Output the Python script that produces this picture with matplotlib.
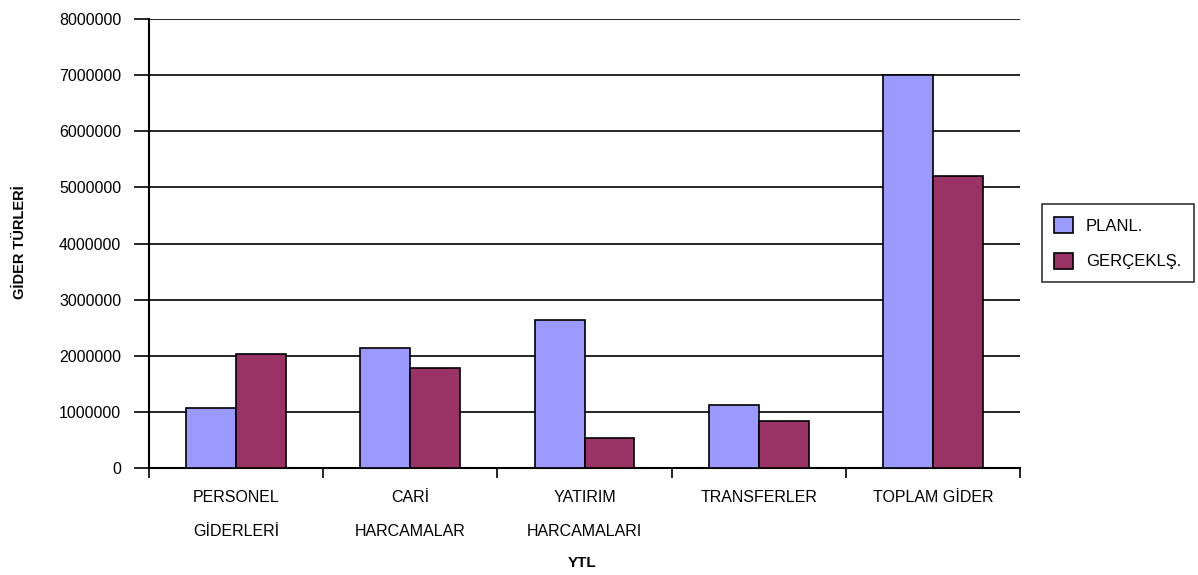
import matplotlib
matplotlib.use("Agg")
import matplotlib.pyplot as plt
import numpy as np

plt.rcParams['font.family'] = ['Liberation Sans', 'DejaVu Sans']

categories = ["PERSONEL\nGİDERLERİ", "CARİ\nHARCAMALAR", "YATIRIM\nHARCAMALARI", "TRANSFERLER", "TOPLAM GİDER"]
planl = [1070000, 2140000, 2640000, 1120000, 7000000]
gercek = [2035000, 1780000, 545000, 850000, 5200000]
yticks = [0, 1000000, 2000000, 3000000, 4000000, 5000000, 6000000, 7000000, 8000000]

fig = plt.figure(figsize=(11.98, 5.75), dpi=100)
ax = fig.add_axes([0.1244, 0.1856, 0.7270, 0.7814])

x = np.arange(len(categories))
w = 0.287
ax.bar(x - w/2, planl, w, color="#9999FF", edgecolor="black", linewidth=1.2, label="PLANL.", zorder=3)
ax.bar(x + w/2, gercek, w, color="#993366", edgecolor="black", linewidth=1.2, label="GERÇEKLŞ.", zorder=3)

ax.set_xlim(-0.5, len(categories) - 0.5)
ax.set_ylim(0, 8000000)
ax.set_yticks(yticks)
ax.set_yticklabels([str(v) for v in yticks], fontsize=11.5)
ax.tick_params(axis='y', length=11, width=1.2, pad=9)
ax.yaxis.grid(True, color="black", linewidth=1.2, zorder=0)
ax.set_axisbelow(True)

ax.set_xticks(np.arange(len(categories) + 1) - 0.5)
ax.set_xticklabels([])
ax.set_xticks(x, minor=True)
ax.set_xticklabels(categories, minor=True, fontsize=11.5, linespacing=2.6, va='top')
ax.tick_params(axis='x', which='major', length=7, width=1.2)
ax.tick_params(axis='x', which='minor', length=0, pad=15.5)

for s in ['top', 'right']:
    ax.spines[s].set_visible(False)
for s in ['left', 'bottom']:
    ax.spines[s].set_linewidth(1.5)

fig.text(0.0165, 0.579, "GİDER TÜRLERİ", rotation=90, fontsize=10.5, fontweight='bold', ha='center', va='center')
fig.text(0.486, 0.021, "YTL", fontsize=11, fontweight='bold', ha='center', va='center')

leg = ax.legend(loc='center left', bbox_to_anchor=(1.025, 0.501), frameon=True, fancybox=False,
                edgecolor='black', fontsize=12, handlelength=1.1, handleheight=1.1,
                labelspacing=1.15, borderpad=0.75, handletextpad=0.8, borderaxespad=0)
leg.get_frame().set_linewidth(1.2)

fig.savefig("out.png", dpi=100)
